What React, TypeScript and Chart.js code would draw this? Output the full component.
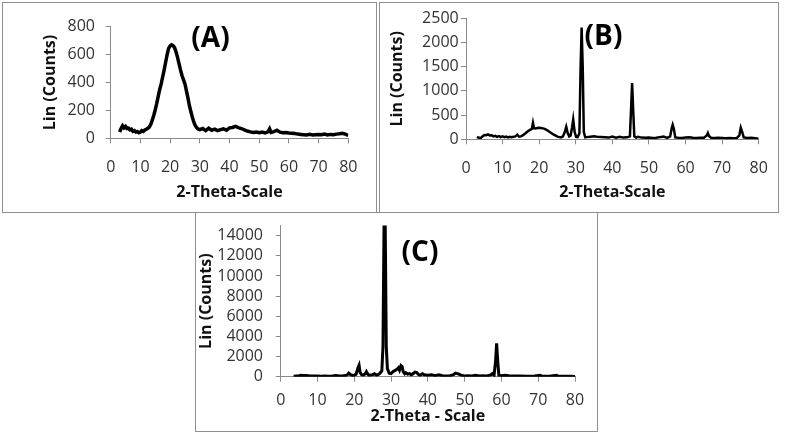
import React, { useEffect, useRef } from "react";
import { Chart, registerables } from "chart.js";

Chart.register(...registerables);

// ---------- Data ----------
const xTicks = [0, 10, 20, 30, 40, 50, 60, 70, 80];

const xA = [3, 3.5, 4, 4.5, 5, 5.5, 6, 6.5, 7, 7.5, 8, 8.5, 9, 9.5, 10, 10.5, 11, 11.5, 12, 12.5, 13, 13.5, 14, 14.5, 15, 15.5, 16, 16.5, 17, 17.5, 18, 18.5, 19, 19.5, 20, 20.5, 21, 21.5, 22, 22.5, 23, 23.5, 24, 24.5, 25, 25.5, 26, 26.5, 27, 27.5, 28, 28.5, 29, 29.5, 30, 31, 32, 33, 34, 35, 36, 37, 38, 39, 40, 41, 42, 43, 44, 45, 46, 47, 48, 49, 50, 51, 52, 53, 53.5, 54, 55, 56, 57, 58, 59, 60, 61, 62, 63, 64, 65, 66, 67, 68, 69, 70, 71, 72, 73, 74, 75, 76, 77, 78, 79, 80];
const yA = [45, 70, 90, 75, 85, 70, 72, 60, 65, 50, 55, 45, 48, 40, 45, 55, 50, 60, 65, 72, 80, 100, 130, 165, 205, 250, 300, 350, 390, 440, 490, 545, 600, 645, 662, 670, 665, 650, 620, 580, 535, 490, 450, 420, 390, 340, 290, 235, 190, 150, 115, 90, 75, 65, 62, 70, 55, 72, 58, 66, 55, 62, 68, 58, 75, 78, 85, 76, 70, 60, 52, 46, 42, 45, 40, 44, 38, 48, 68, 42, 48, 58, 44, 40, 42, 38, 36, 34, 30, 28, 26, 24, 28, 24, 26, 28, 25, 30, 24, 28, 26, 30, 32, 36, 30, 20];
const yTicksA = [0, 200, 400, 600, 800];

const xB = [3, 3.5, 4, 4.5, 5, 5.5, 6, 6.5, 7, 7.5, 8, 8.5, 9, 9.5, 10, 10.5, 11, 11.5, 12, 12.5, 13, 13.5, 14, 14.5, 15, 15.5, 16, 16.5, 17, 17.5, 18, 18.3, 18.6, 19, 19.5, 20, 20.5, 21, 21.5, 22, 22.5, 23, 23.5, 24, 24.5, 25, 25.5, 26, 26.5, 27, 27.4, 27.8, 28.2, 28.6, 29, 29.3, 29.7, 30.1, 30.5, 31, 31.3, 31.6, 31.9, 32.2, 32.6, 33, 34, 35, 36, 37, 38, 39, 40, 41, 42, 43, 44, 44.8, 45.1, 45.4, 45.7, 46, 46.5, 47, 48, 49, 50, 51, 52, 53, 54, 55, 55.8, 56.2, 56.5, 56.8, 57.2, 58, 59, 60, 61, 62, 63, 64, 65, 65.8, 66.1, 66.4, 67, 68, 69, 70, 71, 72, 73, 74, 74.7, 75.1, 75.5, 75.9, 77, 78, 79, 80];
const yB = [50, 30, 25, 60, 90, 85, 100, 80, 85, 60, 70, 50, 65, 45, 60, 45, 55, 40, 50, 45, 55, 60, 95, 55, 60, 80, 110, 140, 170, 195, 215, 340, 230, 225, 235, 240, 235, 225, 215, 195, 170, 145, 120, 95, 75, 55, 45, 40, 60, 150, 260, 130, 60, 80, 250, 410, 150, 50, 45, 120, 1400, 2310, 1500, 150, 40, 45, 55, 65, 50, 45, 40, 35, 55, 35, 50, 35, 40, 60, 600, 1160, 600, 60, 35, 50, 35, 30, 35, 25, 30, 45, 55, 30, 60, 220, 300, 220, 40, 30, 25, 35, 40, 30, 25, 30, 30, 80, 130, 70, 30, 25, 30, 25, 20, 25, 20, 25, 80, 240, 150, 40, 25, 30, 20, 10];
const yTicksB = [0, 500, 1000, 1500, 2000, 2500];

const xC = [3.5, 4, 5, 5.5, 6, 7, 8, 9, 10, 11, 12, 13, 14, 15, 16, 17, 18, 18.5, 19, 19.5, 20, 20.5, 21, 21.3, 21.6, 22, 22.5, 23, 23.3, 23.7, 24, 25, 25.5, 26, 26.5, 27, 27.5, 27.8, 28.1, 28.4, 28.7, 29, 29.5, 30, 30.5, 31, 31.5, 32, 32.3, 32.7, 33, 33.3, 33.7, 34, 34.5, 35, 35.5, 36, 36.5, 37, 37.5, 38, 38.5, 39, 40, 41, 42, 43, 44, 45, 46, 47, 47.5, 48, 48.5, 49, 50, 51, 52, 53, 54, 55, 56, 57, 57.5, 58, 58.4, 58.7, 59, 59.3, 60, 61, 62, 63, 65, 67, 69, 70.5, 71, 73, 75, 75.5, 77, 79, 80];
const yC = [50, 60, 100, 150, 130, 120, 80, 70, 60, 50, 60, 50, 60, 120, 80, 90, 150, 350, 200, 120, 150, 250, 900, 1150, 400, 200, 150, 300, 500, 250, 150, 200, 300, 150, 200, 350, 600, 3000, 15500, 15500, 3000, 800, 350, 300, 500, 600, 700, 900, 650, 1100, 1000, 500, 300, 400, 250, 300, 200, 300, 450, 400, 200, 150, 300, 200, 150, 200, 100, 180, 100, 80, 100, 200, 350, 300, 250, 150, 80, 100, 80, 150, 80, 100, 80, 150, 300, 150, 1500, 3300, 1500, 150, 100, 150, 100, 80, 60, 50, 70, 150, 60, 40, 150, 50, 40, 50, 30];
const yTicksC = [0, 2000, 4000, 6000, 8000, 10000, 12000, 14000];

// ---------- Helpers ----------
const FONT = "'Open Sans', 'DejaVu Sans', sans-serif";
const AXIS_GRAY = "#8a8a8a";

const panelLabel = {
  id: "panelLabel",
  afterDraw(chart: any, _args: any, opts: any) {
    const ctx = chart.ctx;
    ctx.save();
    ctx.font = `bold 28px ${FONT}`;
    ctx.fillStyle = "#000";
    ctx.textAlign = "center";
    ctx.textBaseline = "middle";
    ctx.fillText(opts.text, opts.x, opts.y);
    ctx.restore();
  },
};

type PanelProps = {
  xs: number[];
  ys: number[];
  yTicks: number[];
  yMax: number;
  width: number;
  height: number;
  left: number;
  top: number;
  pad: { left: number; top: number; right: number; bottom: number };
  yWidth: number;
  xHeight: number;
  yTickPad: number;
  xTickPad: number;
  xTitle: string;
  label: string;
  labelX: number;
  labelY: number;
  lineWidth: number;
};

function XrdPanel(p: PanelProps) {
  const ref = useRef<HTMLCanvasElement>(null);
  useEffect(() => {
    const data = p.xs.map((x, i) => ({ x, y: p.ys[i] }));
    const chart = new Chart(ref.current as HTMLCanvasElement, {
      type: "line",
      data: {
        datasets: [
          {
            data,
            borderColor: "#000",
            borderWidth: p.lineWidth,
            pointRadius: 0,
            tension: 0,
            fill: false,
          },
        ],
      },
      options: {
        animation: false,
        responsive: false,
        events: [],
        layout: { padding: p.pad },
        plugins: {
          legend: { display: false },
          tooltip: { enabled: false },
          title: { display: false },
          panelLabel: { text: p.label, x: p.labelX, y: p.labelY },
        } as any,
        scales: {
          x: {
            type: "linear",
            min: 0,
            max: 80,
            afterBuildTicks: (s: any) => {
              s.ticks = xTicks.map((v) => ({ value: v }));
            },
            afterFit: (s: any) => {
              s.height = p.xHeight;
              s.paddingLeft = 0;
              s.paddingRight = 0;
            },
            grid: { display: true, drawOnChartArea: false, drawTicks: true, tickLength: 5, color: AXIS_GRAY },
            border: { display: true, color: AXIS_GRAY, width: 1 },
            ticks: {
              font: { family: FONT, size: 16 },
              color: "#333",
              padding: p.xTickPad,
              maxRotation: 0,
              autoSkip: false,
              callback: (v: any) => String(v),
            },
            title: {
              display: true,
              text: p.xTitle,
              font: { family: FONT, size: 16, weight: "bold" },
              color: "#111",
              padding: { top: 0, bottom: 0 },
            },
          },
          y: {
            type: "linear",
            min: 0,
            max: p.yMax,
            afterBuildTicks: (s: any) => {
              s.ticks = p.yTicks.map((v) => ({ value: v }));
            },
            afterFit: (s: any) => {
              s.width = p.yWidth;
              s.paddingTop = 0;
              s.paddingBottom = 0;
            },
            grid: { display: true, drawOnChartArea: false, drawTicks: true, tickLength: 5, color: AXIS_GRAY },
            border: { display: true, color: AXIS_GRAY, width: 1 },
            ticks: {
              font: { family: FONT, size: 16 },
              color: "#333",
              padding: p.yTickPad,
              autoSkip: false,
              callback: (v: any) => String(v),
            },
            title: {
              display: true,
              text: "Lin (Counts)",
              font: { family: FONT, size: 16, weight: "bold" },
              color: "#111",
              padding: { top: 0, bottom: 0 },
            },
          },
        },
      },
      plugins: [panelLabel],
    });
    return () => chart.destroy();
  }, []);
  return (
    <canvas
      ref={ref}
      width={p.width}
      height={p.height}
      style={{ position: "absolute", left: p.left, top: p.top, width: p.width, height: p.height, display: "block" }}
    />
  );
}

const boxStyle = (left: number, top: number, w: number, h: number): React.CSSProperties => ({
  position: "absolute",
  left,
  top,
  width: w,
  height: h,
  border: "1.5px solid #909090",
  boxSizing: "border-box",
});

export default function App() {
  return (
    <div style={{ position: "fixed", left: 0, top: 0, width: 786, height: 440, background: "#fff", overflow: "hidden" }}>
      <div style={boxStyle(2, 2, 375, 211)} />
      <div style={boxStyle(379, 2, 400, 211)} />
      <div style={boxStyle(195, 212, 403, 220)} />
      <XrdPanel
        xs={xA}
        ys={yA}
        yTicks={yTicksA}
        yMax={800}
        left={3}
        top={3}
        width={372}
        height={208}
        pad={{ left: 38.2, top: 23.7, right: 26.7, bottom: 9.4 }}
        yWidth={69.5}
        xHeight={63.3}
        yTickPad={10.7}
        xTickPad={14.8}
        xTitle="2-Theta-Scale"
        label="(A)"
        labelX={207.5}
        labelY={36}
        lineWidth={3.5}
      />
      <XrdPanel
        xs={xB}
        ys={yB}
        yTicks={yTicksB}
        yMax={2500}
        left={380}
        top={3}
        width={398}
        height={208}
        pad={{ left: 7.9, top: 15.3, right: 19.3, bottom: 8.9 }}
        yWidth={78.1}
        xHeight={62.8}
        yTickPad={2.3}
        xTickPad={14.8}
        xTitle="2-Theta-Scale"
        label="(B)"
        labelX={223.5}
        labelY={34}
        lineWidth={2.5}
      />
      <XrdPanel
        xs={xC}
        ys={yC}
        yTicks={yTicksC}
        yMax={15000}
        left={196}
        top={213}
        width={400}
        height={218}
        pad={{ left: 0.9, top: 12.6, right: 21, bottom: 5.2 }}
        yWidth={83.8}
        xHeight={49.1}
        yTickPad={12.7}
        xTickPad={9.2}
        xTitle="2-Theta - Scale"
        label="(C)"
        labelX={224}
        labelY={40}
        lineWidth={3}
      />
    </div>
  );
}
